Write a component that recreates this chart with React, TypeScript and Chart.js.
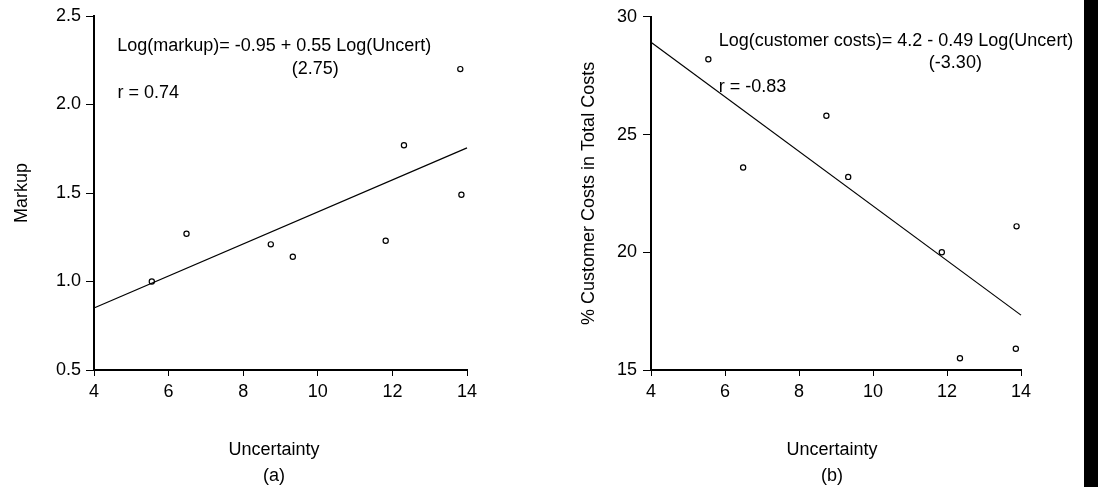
import React, { useEffect, useRef } from "react";
import { Chart, registerables } from "chart.js";

Chart.register(...registerables);

const FONT = '"Liberation Sans", Arial, Helvetica, sans-serif';

// ---- Panel (a): Markup vs Uncertainty ----
const markupUncertainty = [5.55, 6.48, 8.74, 9.33, 11.82, 12.31, 13.82, 13.85];
const markupValues = [1.0, 1.27, 1.21, 1.14, 1.23, 1.77, 2.2, 1.49];
const markupFitX = [4, 14];
const markupFitY = [0.85, 1.755];
const markupNotes = [
  { text: "Log(markup)= -0.95 + 0.55 Log(Uncert)", x: 4.62, y: 2.3 },
  { text: "(2.75)", x: 9.3, y: 2.17 },
  { text: "r = 0.74", x: 4.63, y: 2.035 },
];

// ---- Panel (b): % Customer costs vs Uncertainty ----
const costUncertainty = [5.55, 6.49, 8.74, 9.33, 11.86, 12.35, 13.86, 13.88];
const costValues = [28.2, 23.6, 25.8, 23.2, 20.0, 15.5, 15.9, 21.1];
const costFitX = [4, 14];
const costFitY = [28.92, 17.33];
const costNotes = [
  { text: "Log(customer costs)= 4.2 - 0.49 Log(Uncert)", x: 5.83, y: 28.77 },
  { text: "(-3.30)", x: 11.51, y: 27.84 },
  { text: "r = -0.83", x: 5.83, y: 26.82 },
];

const xTickMin = 4;
const xTickMax = 14;
const xTickStep = 2;

type Note = { text: string; x: number; y: number };

type PanelProps = {
  left: number;
  width: number;
  xs: number[];
  ys: number[];
  fitX: number[];
  fitY: number[];
  notes: Note[];
  yMin: number;
  yMax: number;
  yStep: number;
  yDecimals: number;
  yTitle: string;
  yTitlePad: number;
  yAxisWidth: number;
  padRight: number;
  yTickLen: number;
  yTickPad: number;
  captionShift: number;
  caption: string;
};

const HEIGHT = 487;

function Panel(p: PanelProps) {
  const ref = useRef<HTMLCanvasElement | null>(null);

  useEffect(() => {
    if (!ref.current) return;
    const notesPlugin = {
      id: "notesText",
      afterDatasetsDraw(chart: any) {
        const { ctx, chartArea } = chart;
        const xs = chart.scales.x;
        const ys = chart.scales.y;
        ctx.save();
        ctx.font = `18px ${FONT}`;
        ctx.fillStyle = "#000";
        ctx.textAlign = "left";
        ctx.textBaseline = "alphabetic";
        for (const n of p.notes) {
          ctx.fillText(n.text, xs.getPixelForValue(n.x), ys.getPixelForValue(n.y));
        }
        ctx.textAlign = "center";
        const cx = (chartArea.left + chartArea.right) / 2 + p.captionShift;
        ctx.fillText("Uncertainty", cx, chartArea.bottom + 85);
        ctx.fillText(p.caption, cx, chartArea.bottom + 111);
        ctx.restore();
      },
    };

    const chart = new Chart(ref.current, {
      type: "scatter",
      data: {
        datasets: [
          {
            type: "line",
            data: p.fitX.map((x, i) => ({ x, y: p.fitY[i] })),
            borderColor: "#000",
            borderWidth: 1.2,
            pointRadius: 0,
            fill: false,
            tension: 0,
            clip: false as any,
          },
          {
            type: "scatter",
            data: p.xs.map((x, i) => ({ x, y: p.ys[i] })),
            pointRadius: 2.6,
            pointBorderWidth: 1.2,
            pointBackgroundColor: "#fff",
            pointBorderColor: "#000",
            clip: false as any,
          },
        ],
      },
      options: {
        animation: false,
        responsive: false,
        devicePixelRatio: 1,
        events: [],
        layout: { padding: { top: 16, right: p.padRight, left: 0, bottom: 0 } },
        plugins: {
          legend: { display: false },
          tooltip: { enabled: false },
          title: { display: false },
        },
        scales: {
          x: {
            type: "linear",
            min: xTickMin,
            max: xTickMax,
            ticks: {
              stepSize: xTickStep,
              color: "#000",
              font: { family: FONT, size: 18 },
              padding: 5,
              maxRotation: 0,
            },
            grid: {
              display: true,
              drawOnChartArea: false,
              drawTicks: true,
              tickLength: 6,
              color: "#000",
              lineWidth: 1,
            },
            border: { display: true, color: "#000", width: 2 },
            afterFit(scale: any) {
              scale.height = HEIGHT - 370;
            },
          },
          y: {
            type: "linear",
            min: p.yMin,
            max: p.yMax,
            ticks: {
              stepSize: p.yStep,
              color: "#000",
              font: { family: FONT, size: 18 },
              padding: p.yTickPad,
              callback: (v: any) => Number(v).toFixed(p.yDecimals),
            },
            grid: {
              display: true,
              drawOnChartArea: false,
              drawTicks: true,
              tickLength: p.yTickLen,
              color: "#000",
              lineWidth: 1,
            },
            border: { display: true, color: "#000", width: 2 },
            title: {
              display: true,
              text: p.yTitle,
              color: "#000",
              font: { family: FONT, size: 18 },
              padding: { top: p.yTitlePad, bottom: 0 },
            },
            afterFit(scale: any) {
              scale.width = p.yAxisWidth;
            },
          },
        },
      },
      plugins: [notesPlugin],
    } as any);

    return () => chart.destroy();
  }, []);

  return (
    <canvas
      ref={ref}
      width={p.width}
      height={HEIGHT}
      style={{
        position: "absolute",
        left: p.left,
        top: 0,
        width: p.width,
        height: HEIGHT,
      }}
    />
  );
}

export default function App() {
  return (
    <div
      style={{
        position: "absolute",
        left: 0,
        top: 0,
        width: 1098,
        height: HEIGHT,
        background: "#fff",
        overflow: "hidden",
      }}
    >
      <Panel
        left={0}
        width={549}
        xs={markupUncertainty}
        ys={markupValues}
        fitX={markupFitX}
        fitY={markupFitY}
        notes={markupNotes}
        yMin={0.5}
        yMax={2.5}
        yStep={0.5}
        yDecimals={1}
        yTitle="Markup"
        yTitlePad={11}
        yAxisWidth={94}
        padRight={549 - 467}
        yTickLen={8}
        yTickPad={5}
        captionShift={-6.5}
        caption="(a)"
      />
      <Panel
        left={549}
        width={549}
        xs={costUncertainty}
        ys={costValues}
        fitX={costFitX}
        fitY={costFitY}
        notes={costNotes}
        yMin={15}
        yMax={30}
        yStep={5}
        yDecimals={0}
        yTitle="% Customer Costs in Total Costs"
        yTitlePad={29}
        yAxisWidth={651 - 549}
        padRight={549 - (1021 - 549)}
        yTickLen={8}
        yTickPad={6}
        captionShift={-4}
        caption="(b)"
      />
      <div
        style={{
          position: "absolute",
          left: 1084,
          top: 0,
          width: 14,
          height: HEIGHT,
          background: "#000",
        }}
      />
    </div>
  );
}
